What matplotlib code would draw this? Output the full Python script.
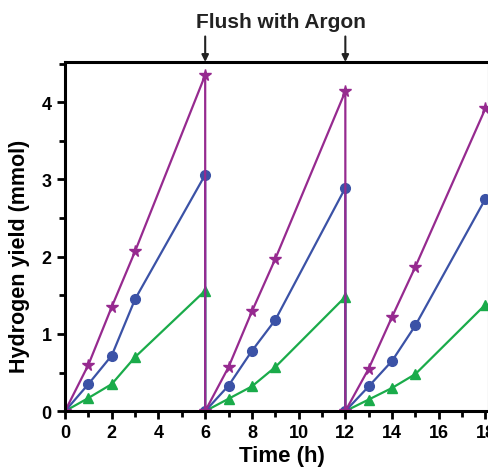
import matplotlib.pyplot as plt
import numpy as np

plt.rcParams['font.family'] = ['Liberation Sans', 'DejaVu Sans']
plt.rcParams['font.weight'] = 'bold'

# time points (h); the repeated 6 and 12 give the drop after each argon flush
t = [0, 1, 2, 3, 6, 6, 7, 8, 9, 12, 12, 13, 14, 15, 18]
star_y = [0, 0.60, 1.35, 2.07, 4.35, 0, 0.57, 1.29, 1.97, 4.14, 0, 0.55, 1.22, 1.87, 3.92]
circ_y = [0, 0.35, 0.72, 1.45, 3.06, 0, 0.33, 0.78, 1.18, 2.89, 0, 0.32, 0.65, 1.11, 2.75]
tri_y = [0, 0.17, 0.35, 0.70, 1.56, 0, 0.16, 0.32, 0.57, 1.48, 0, 0.15, 0.30, 0.48, 1.38]
flush_t = [6, 12]

fig = plt.figure(figsize=(4.89, 4.77), dpi=100)
ax = fig.add_axes([0.133, 0.136, 0.867, 0.732])

ax.plot(t, tri_y, color='#1aab4a', marker='^', ms=7, lw=1.6)
ax.plot(t, circ_y, color='#3b52a6', marker='o', ms=7, lw=1.6)
ax.plot(t, star_y, color='#962a8f', marker='*', ms=8.5, lw=1.6)

ax.set_xlim(0, 18.15)
ax.set_ylim(0, 4.52)
ax.set_xticks(np.arange(0, 19, 2))
ax.set_xticks(np.arange(0, 19, 1), minor=True)
ax.set_yticks([0, 1, 2, 3, 4])
ax.set_yticks(np.arange(0, 4.6, 0.5), minor=True)

for s in ax.spines.values():
    s.set_linewidth(2.2)
ax.tick_params(which='major', direction='out', length=6, width=2, labelsize=13)
ax.tick_params(which='minor', direction='out', length=4, width=2)
for lab in ax.get_xticklabels() + ax.get_yticklabels():
    lab.set_fontweight('bold')

ax.set_xlabel('Time (h)', fontsize=16, fontweight='bold')
ax.xaxis.set_label_coords(0.512, -0.098)
ax.set_ylabel('Hydrogen yield (mmol)', fontsize=15.5, fontweight='bold')
ax.yaxis.set_label_coords(-0.083, 0.447)

for ft in flush_t:
    ax.annotate('', xy=(ft, 4.52), xytext=(ft, 4.85), xycoords='data',
                annotation_clip=False,
                arrowprops=dict(arrowstyle='-|>', color='#222222', lw=1.5,
                                mutation_scale=10, shrinkA=0, shrinkB=0))
ax.text(9.25, 5.04, 'Flush with Argon', ha='center', va='center',
        fontsize=15, fontweight='bold', color='#222222', clip_on=False)

fig.savefig('out.png', dpi=100)
